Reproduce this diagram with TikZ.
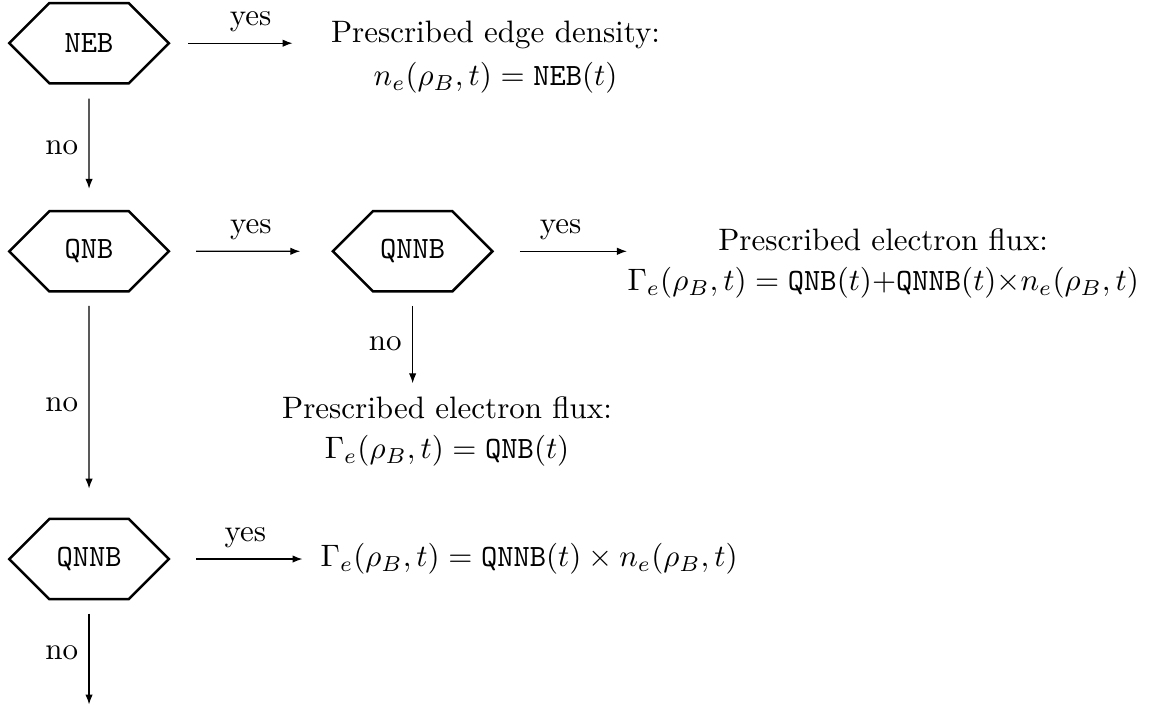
\documentclass[tikz,border=0pt]{standalone}
\usetikzlibrary{arrows.meta,calc,shapes.symbols}
\tikzset{
  decision/.style={draw, thick, shape=signal, signal to=west and east,
    signal pointer angle=90, minimum width=1.81cm, minimum height=0.91cm,
    inner sep=1pt, font=\ttfamily},
  result/.style={align=center, inner sep=0pt},
  flow/.style={-{Latex[length=3.2pt,width=2.4pt]}},
  yeslabel/.style={midway, above},
  nolabel/.style={midway, left}
}

\begin{document}
\begin{tikzpicture}[x=1cm,y=1cm]
  \useasboundingbox (0,0) rectangle (13.19,8.04);
  % Decision chain for the boundary condition switches
  \node[decision] (neb) at (1.01,7.55) {NEB};
  \node[decision] (qnb) at (1.01,5.19) {QNB};
  \node[decision] (qnnba) at (4.68,5.19) {QNNB};
  \node[decision] (qnnbb) at (1.01,1.70) {QNNB};
  \coordinate (fallthrough) at (1.01,0.05);

  % Resulting prescriptions
  \node[result] (nebres) at (5.62,7.39)
    {Prescribed edge density:\\[2pt] $n_e(\rho_B,t) = \texttt{NEB}(t)$};
  \node[result, anchor=west] (fluxres) at (7.11,5.05)
    {Prescribed electron flux:\\[1pt]
     $\Gamma_e(\rho_B,t) = \texttt{QNB}(t){+}\texttt{QNNB}(t){\times}n_e(\rho_B,t)$};
  \node[result] (qnbres) at (5.07,3.15)
    {Prescribed electron flux:\\[1pt] $\Gamma_e(\rho_B,t) = \texttt{QNB}(t)$};
  \node[result, anchor=west] (qnnbres) at (3.63,1.70)
    {$\Gamma_e(\rho_B,t) = \texttt{QNNB}(t) \times n_e(\rho_B,t)$};

  % yes branches
  \draw[flow, shorten <=0.20cm, shorten >=0.43cm]
    (neb.east) -- (neb.east -| nebres.west) node[yeslabel] {yes};
  \draw[flow, shorten <=0.29cm, shorten >=0.35cm]
    (qnb) -- (qnnba) node[yeslabel] {yes};
  \draw[flow, shorten <=0.29cm]
    (qnnba.east) -- (qnnba.east -| fluxres.west) node[yeslabel] {yes};
  \draw[flow, shorten <=0.29cm, shorten >=0.20cm]
    (qnnbb.east) -- (qnnbb.east -| qnnbres.west) node[yeslabel] {yes};

  % no branches
  \draw[flow, shorten <=0.16cm, shorten >=0.24cm]
    (neb) -- (qnb) node[nolabel] {no};
  \draw[flow, shorten <=0.15cm, shorten >=0.33cm]
    (qnb) -- (qnnbb) node[nolabel] {no};
  \draw[flow, shorten <=0.15cm, shorten >=0.14cm]
    (qnnba.south) -- (qnnba.south |- qnbres.north) node[nolabel] {no};
  \draw[flow, shorten <=0.15cm]
    (qnnbb.south) -- (fallthrough) node[nolabel] {no};
\end{tikzpicture}
\end{document}
